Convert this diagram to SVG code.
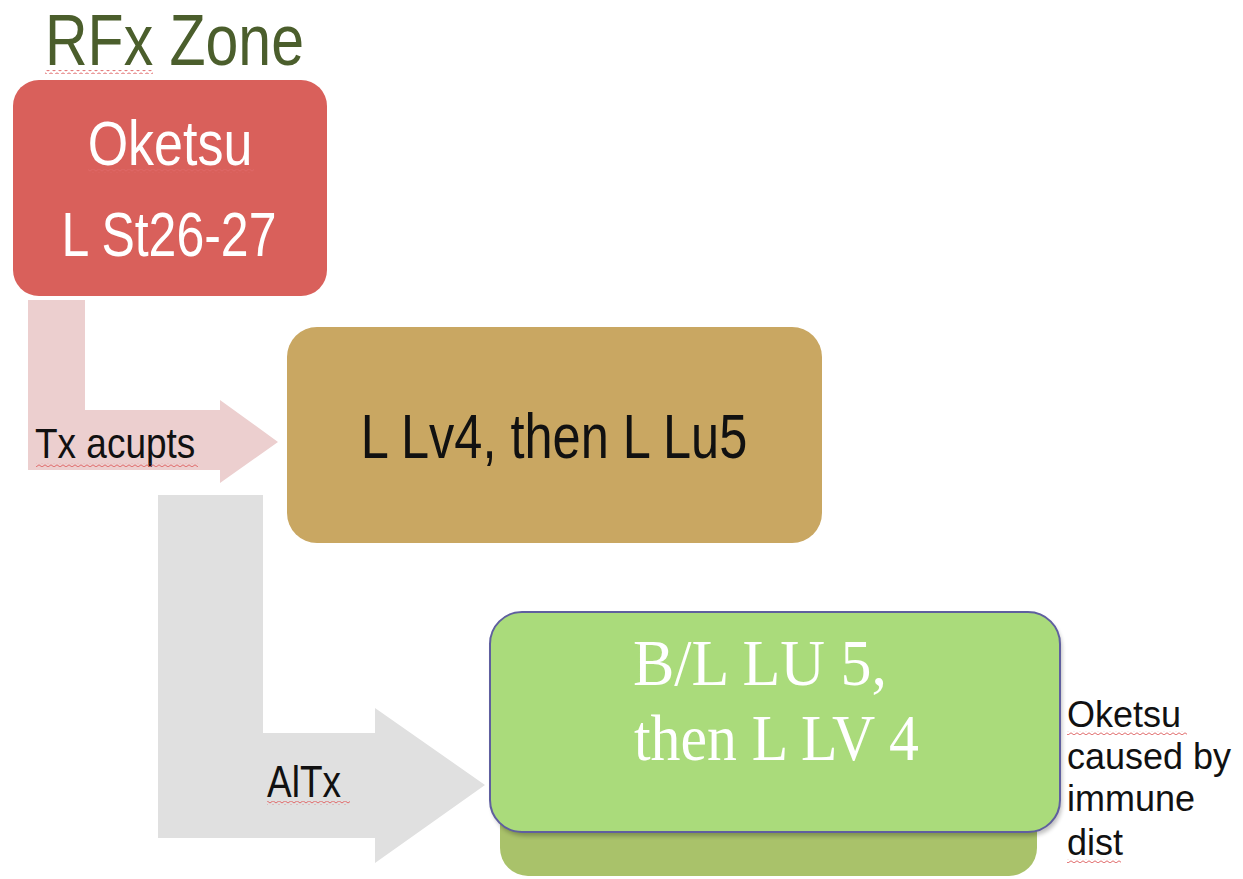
<svg xmlns="http://www.w3.org/2000/svg" width="1243" height="879" viewBox="0 0 1243 879">
<defs>
<style>
.sans{font-family:"Liberation Sans",Arial,sans-serif;}
.serif{font-family:"Liberation Serif","Times New Roman",serif;}
.wh{fill:#ffffff;}
.bk{fill:#111111;}
</style>
<pattern id="wavy" width="6" height="4" patternUnits="userSpaceOnUse">
<path d="M0,3 L3,0.8 L6,3" fill="none" stroke="#e06a6a" stroke-width="1"/>
</pattern>
<filter id="soft" x="-5%" y="-5%" width="110%" height="110%">
<feGaussianBlur stdDeviation="2"/>
</filter>
</defs>
<rect width="1243" height="879" fill="#ffffff"/>

<g id="title">
<text class="sans" font-size="59" fill="#4b5e2c" transform="translate(45,65) scale(1,1.23)">RFx Zone</text>
<rect x="45" y="70" width="108" height="4" fill="url(#wavy)"/>
</g>

<g id="connectors">
<polygon points="28,300 85,300 85,410 220,410 220,400 278,442 220,483 220,470 28,470" fill="#eccfcf"/>
<text class="sans bk" font-size="37" transform="translate(35,458) scale(1,1.15)">Tx acupts</text>
<rect x="36" y="463" width="162" height="4" fill="url(#wavy)"/>
<polygon points="158,495 263,495 263,733 375,733 375,708 485,785 375,863 375,838 158,838" fill="#e0e0e0"/>
<text class="sans bk" font-size="37" transform="translate(267,797) scale(1,1.2)">AlTx</text>
<rect x="267" y="801" width="83" height="4" fill="url(#wavy)"/>
</g>

<g id="node-oketsu">
<rect x="13" y="80" width="314" height="216" rx="26" fill="#d9605b"/>
<text class="sans wh" font-size="52" text-anchor="middle" transform="translate(170,165) scale(1,1.22)">Oketsu</text>
<rect x="88" y="169" width="166" height="4" fill="url(#wavy)" opacity="0.8"/>
<text class="sans wh" font-size="50" text-anchor="middle" transform="translate(169,256) scale(1,1.25)">L St26-27</text>
</g>

<g id="node-tx">
<rect x="287" y="327" width="535" height="216" rx="30" fill="#c9a762"/>
<text class="sans bk" font-size="50.5" text-anchor="middle" transform="translate(554,458) scale(1,1.25)">L Lv4, then L Lu5</text>
</g>

<g id="node-altx">
<rect x="500" y="645" width="537" height="231" rx="28" fill="#a9c26a"/>
<rect x="492" y="616" width="570" height="220" rx="32" fill="#000000" opacity="0.25" filter="url(#soft)"/>
<rect x="490" y="612" width="570" height="220" rx="32" fill="#aadb7b" stroke="#5f5f9f" stroke-width="2"/>
<text class="serif wh" font-size="65" textLength="254" lengthAdjust="spacingAndGlyphs" x="633" y="685">B/L LU 5,</text>
<text class="serif wh" font-size="65" textLength="285" lengthAdjust="spacingAndGlyphs" x="634" y="760">then L LV 4</text>
</g>

<g id="note">
<text class="sans bk" font-size="36" x="1067" y="727">Oketsu</text>
<rect x="1067" y="731" width="120" height="4" fill="url(#wavy)"/>
<text class="sans bk" font-size="36" x="1067" y="769">caused by</text>
<text class="sans bk" font-size="36" x="1067" y="811">immune</text>
<text class="sans bk" font-size="36" x="1067" y="855">dist</text>
<rect x="1067" y="859" width="54" height="4" fill="url(#wavy)"/>
</g>
</svg>
